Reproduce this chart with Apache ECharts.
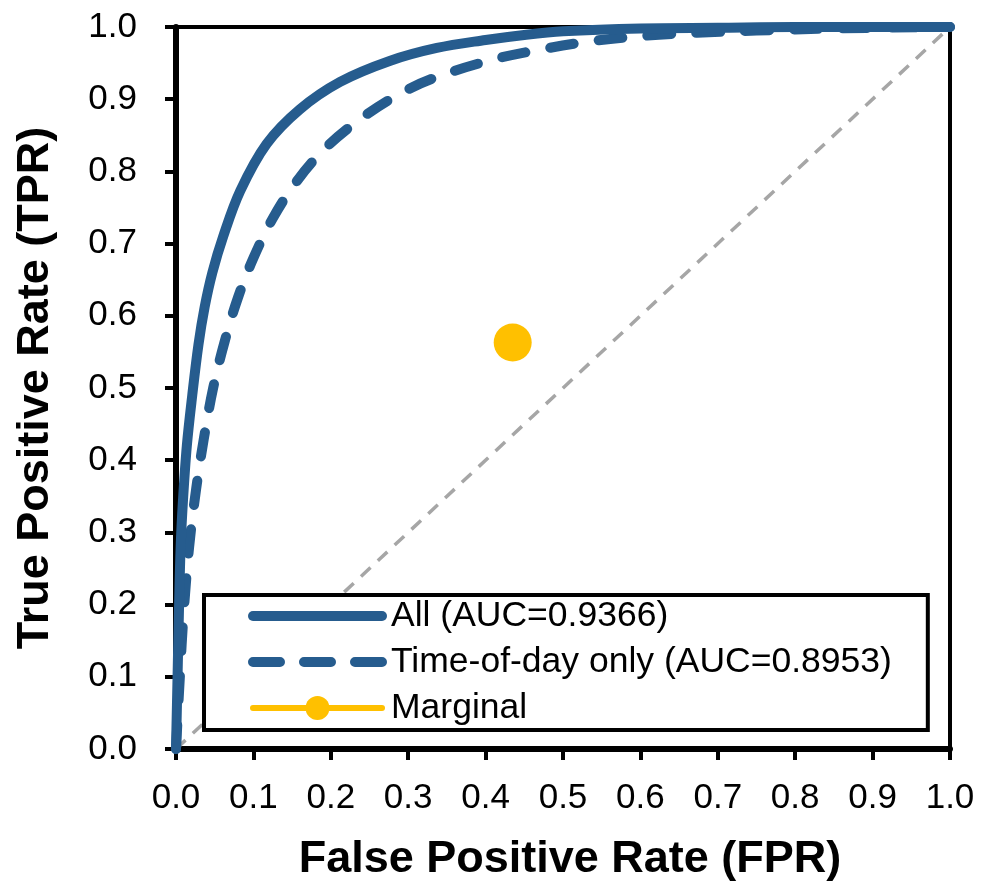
<!DOCTYPE html>
<html lang="en">
<head>
  <meta charset="UTF-8" />
  <title>ROC curves</title>
  <script src="https://cdn.jsdelivr.net/npm/echarts@6/dist/echarts.min.js"></script>
  <style>
    body { margin: 0; background: #fff; }
    #chart { width: 994px; height: 882px; }
  </style>
</head>
<body>
  <div id="chart"></div>
  <script>
    // ROC points, [FPR, TPR]
    const allFpr = [0, 0.002, 0.004, 0.006, 0.009, 0.014, 0.021, 0.029, 0.037, 0.047, 0.061, 0.083, 0.117, 0.160, 0.212, 0.276, 0.337, 0.40, 0.45, 0.50, 0.60, 0.70, 0.80, 1.0];
    const allTpr = [0, 0.10, 0.20, 0.28, 0.344, 0.42, 0.49, 0.56, 0.612, 0.66, 0.71, 0.773, 0.838, 0.886, 0.924, 0.953, 0.971, 0.982, 0.989, 0.994, 0.998, 0.999, 1.0, 1.0];

    const todFpr = [0, 0.005, 0.010, 0.017, 0.026, 0.036, 0.048, 0.063, 0.080, 0.100, 0.125, 0.155, 0.190, 0.230, 0.280, 0.330, 0.410, 0.477, 0.541, 0.608, 0.673, 0.75, 0.85, 1.0];
    const todTpr = [0, 0.10, 0.19, 0.28, 0.36, 0.43, 0.50, 0.565, 0.625, 0.68, 0.735, 0.785, 0.829, 0.866, 0.902, 0.928, 0.955, 0.970, 0.981, 0.988, 0.992, 0.995, 0.998, 1.0];

    const marginalPoint = [0.435, 0.563];
    const chanceLine = [[0, 0], [1, 1]];

    const seriesNames = ['All (AUC=0.9366)', 'Time-of-day only (AUC=0.8953)', 'Marginal'];

    const BLUE = '#265c8e';
    const GOLD = '#ffc000';
    const FONT = "'Liberation Sans', Arial, sans-serif";

    const zip = (xs, ys) => xs.map((x, i) => [x, ys[i]]);
    const fmt = v => v.toFixed(1);

    const axisCommon = {
      type: 'value', min: 0, max: 1, interval: 0.1,
      axisLine: { show: true, lineStyle: { color: '#000', width: 6 } },
      axisTick: { show: true, inside: false, length: 11, lineStyle: { color: '#000', width: 4 } },
      splitLine: { show: false },
      nameLocation: 'middle'
    };
    const nameStyle = { fontFamily: FONT, fontSize: 45, fontWeight: 'bold', color: '#000' };

    // hide the symbol in the legend for the two curves, keep only the stroke
    const noMarker = { opacity: 0, borderWidth: 0 };

    const chart = echarts.init(document.getElementById('chart'));
    chart.setOption({
      animation: false,
      backgroundColor: '#fff',
      grid: {
        left: 176, top: 27, right: 44, bottom: 133,
        outerBoundsMode: 'none',
        show: true, borderColor: '#000', borderWidth: 4, backgroundColor: 'transparent'
      },
      xAxis: Object.assign({}, axisCommon, {
        name: 'False Positive Rate (FPR)',
        nameGap: 88,
        nameTextStyle: Object.assign({}, nameStyle, { padding: [0, 0, 0, 14] }),
        axisLabel: { formatter: fmt, margin: 32, fontFamily: FONT, fontSize: 35, color: '#000' }
      }),
      yAxis: Object.assign({}, axisCommon, {
        name: 'True Positive Rate (TPR)',
        nameGap: 118,
        nameTextStyle: nameStyle,
        axisLabel: { formatter: fmt, margin: 39, fontFamily: FONT, fontSize: 35, color: '#000' }
      }),
      legend: {
        left: 204, top: 595,
        orient: 'vertical',
        itemWidth: 129, itemHeight: 30, itemGap: 10,
        padding: [3, 36, 4, 44],
        backgroundColor: '#fff',
        borderColor: '#000', borderWidth: 4,
        textStyle: { fontFamily: FONT, fontSize: 35.5, color: '#000', padding: [0, 0, 0, 4] },
        data: [
          { name: seriesNames[0], itemStyle: noMarker, lineStyle: { width: 10, type: 'solid', cap: 'round', color: BLUE } },
          { name: seriesNames[1], itemStyle: noMarker, lineStyle: { width: 10, type: [27, 24], cap: 'round', color: BLUE } },
          { name: seriesNames[2], lineStyle: { width: 6, type: 'solid', cap: 'round', color: GOLD } }
        ]
      },
      series: [
        {
          name: 'chance', type: 'line', data: chanceLine,
          showSymbol: false, silent: true, z: 1,
          lineStyle: { color: '#a6a6a6', width: 3.5, type: [13, 10] }
        },
        {
          name: seriesNames[1], type: 'line', data: zip(todFpr, todTpr),
          showSymbol: false, smooth: 0.35, clip: false, z: 3,
          itemStyle: { color: BLUE },
          lineStyle: { color: BLUE, width: 10, type: [24, 25], cap: 'round', join: 'round' }
        },
        {
          name: seriesNames[0], type: 'line', data: zip(allFpr, allTpr),
          showSymbol: false, smooth: 0.35, clip: false, z: 4,
          itemStyle: { color: BLUE },
          lineStyle: { color: BLUE, width: 10, cap: 'round', join: 'round' }
        },
        {
          name: seriesNames[2], type: 'line', data: [marginalPoint],
          symbol: 'circle', symbolSize: 38, z: 5,
          itemStyle: { color: GOLD },
          lineStyle: { color: GOLD, width: 6 }
        }
      ]
    });
  </script>
</body>
</html>
